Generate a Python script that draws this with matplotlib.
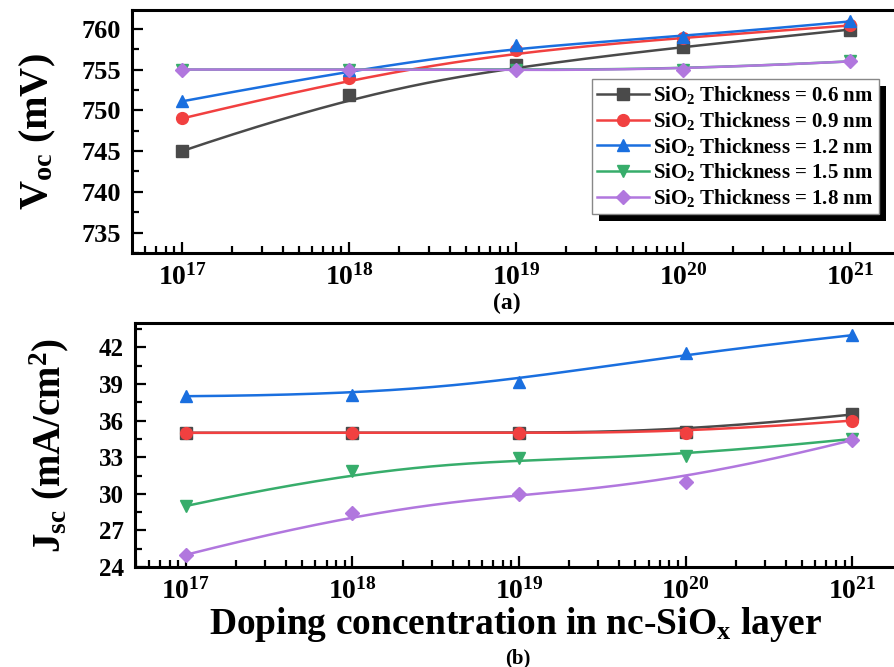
import numpy as np
import matplotlib
matplotlib.use('Agg')
import matplotlib.pyplot as plt
from matplotlib.patches import Rectangle
from matplotlib.ticker import MultipleLocator, LogLocator, LogFormatterMathtext, NullFormatter

plt.rcParams['font.family'] = ['Liberation Serif', 'DejaVu Serif']
plt.rcParams['font.weight'] = 'bold'
plt.rcParams['axes.labelweight'] = 'bold'
plt.rcParams['mathtext.fontset'] = 'custom'
plt.rcParams['mathtext.rm'] = 'Liberation Serif:bold'
plt.rcParams['mathtext.it'] = 'Liberation Serif:bold'
plt.rcParams['mathtext.bf'] = 'Liberation Serif:bold'
plt.rcParams['mathtext.default'] = 'rm'

# data
doping = np.array([1e17, 1e18, 1e19, 1e20, 1e21])
labels = ['SiO$_2$ Thickness = 0.6 nm', 'SiO$_2$ Thickness = 0.9 nm',
          'SiO$_2$ Thickness = 1.2 nm', 'SiO$_2$ Thickness = 1.5 nm',
          'SiO$_2$ Thickness = 1.8 nm']
voc_06 = [745.0, 751.9, 755.5, 757.8, 759.9]
voc_09 = [749.0, 753.9, 757.4, 758.9, 760.4]
voc_12 = [751.1, 754.9, 758.0, 759.0, 760.9]
voc_15 = [755.0, 755.0, 755.0, 755.0, 756.0]
voc_18 = [755.0, 755.0, 754.9, 755.0, 756.0]
jsc_06 = [35.0, 35.0, 35.0, 35.1, 36.5]
jsc_09 = [35.0, 35.0, 35.0, 35.0, 36.0]
jsc_12 = [38.0, 38.1, 39.2, 41.5, 43.0]
jsc_15 = [29.0, 31.9, 32.9, 33.1, 34.5]
jsc_18 = [25.0, 28.45, 30.0, 31.0, 34.4]

colors = ['#4a4a4a', '#F14040', '#1A6FDF', '#37AD6B', '#B177DE']
markers = ['s', 'o', '^', 'v', 'D']
msizes = [8, 8.5, 9, 9, 7.5]


def bspline(xs, ys, n=300):
    # clamped cubic B-spline using the points as control points (Origin style)
    k = 3
    m = len(xs)
    t = np.r_[[0.0] * k, np.arange(m - k + 1), [m - k] * k].astype(float)
    u = np.linspace(0, m - k, n)

    def N(i, p):
        if p == 0:
            out = ((t[i] <= u) & (u < t[i + 1])).astype(float)
            if t[i] < t[i + 1] and t[i + 1] == t[-1]:
                out[u == t[-1]] = 1.0
            return out
        a = np.zeros_like(u)
        b = np.zeros_like(u)
        d1 = t[i + p] - t[i]
        if d1 > 0:
            a = (u - t[i]) / d1 * N(i, p - 1)
        d2 = t[i + p + 1] - t[i + 1]
        if d2 > 0:
            b = (t[i + p + 1] - u) / d2 * N(i + 1, p - 1)
        return a + b

    B = np.array([N(i, k) for i in range(m)])
    return B.T @ np.asarray(xs, float), B.T @ np.asarray(ys, float)


fig = plt.figure(figsize=(8.94, 6.67), dpi=100)
ax1 = fig.add_axes([132 / 894, 1 - 253 / 667, 764 / 894, 243 / 667])
ax2 = fig.add_axes([135 / 894, 1 - 567 / 667, 761 / 894, 244 / 667])


def draw(ax, series):
    lx = np.log10(doping)
    for ys, c, mk, ms, lab in zip(series, colors, markers, msizes, labels):
        sx, sy = bspline(lx, ys)
        ax.plot(10 ** sx, sy, '-', color=c, lw=1.8)
        ax.plot(doping, ys, linestyle='none', marker=mk, ms=ms, color=c)
        ax.plot([], [], '-', color=c, lw=1.8, marker=mk, ms=ms, label=lab)
    ax.set_xscale('log')
    ax.xaxis.set_major_locator(LogLocator(base=10, numticks=10))
    ax.xaxis.set_major_formatter(LogFormatterMathtext())
    ax.xaxis.set_minor_locator(LogLocator(base=10, subs=np.arange(2, 10), numticks=20))
    ax.xaxis.set_minor_formatter(NullFormatter())
    ax.tick_params(which='both', direction='in', width=1.6, top=False, right=False)
    ax.tick_params(which='major', length=8)
    ax.tick_params(which='minor', length=5)
    ax.tick_params(axis='x', labelsize=20, pad=8)
    for s in ax.spines.values():
        s.set_linewidth(2.2)


draw(ax1, [voc_06, voc_09, voc_12, voc_15, voc_18])
ax1.set_xlim(10 ** 16.70, 10 ** 21.275)
ax1.set_ylim(732.5, 762.3)
ax1.yaxis.set_major_locator(MultipleLocator(5))
ax1.yaxis.set_minor_locator(MultipleLocator(2.5))
ax1.tick_params(axis='y', labelsize=19, pad=8)
ax1.set_ylabel('V$_{oc}$ (mV)', fontsize=29, fontweight='bold', va='center')
ax1.yaxis.set_label_coords(-0.123, 0.5)

draw(ax2, [jsc_06, jsc_09, jsc_12, jsc_15, jsc_18])
ax2.set_xlim(10 ** 16.695, 10 ** 21.263)
ax2.set_ylim(24, 44)
ax2.yaxis.set_major_locator(MultipleLocator(3))
ax2.yaxis.set_minor_locator(MultipleLocator(1.5))
ax2.tick_params(axis='y', labelsize=18, pad=8)
ax2.set_ylabel('J$_{sc}$ (mA/cm$^2$)', fontsize=28, fontweight='bold', va='center')
ax2.yaxis.set_label_coords(-0.113, 0.5)
ax2.set_xlabel('Doping concentration in nc-SiO$_x$ layer', fontsize=27,
               fontweight='bold', va='baseline')
ax2.xaxis.set_label_coords(0.5, -0.276)

leg = ax1.legend(loc='upper left', bbox_to_anchor=(0.602, 0.716), fontsize=15,
                 frameon=True, fancybox=False, edgecolor='#888888', framealpha=1,
                 handlelength=2.5, handletextpad=0.2, borderpad=0.25,
                 labelspacing=0.18, borderaxespad=0)
leg.get_frame().set_linewidth(1.0)
leg.set_zorder(6)

fig.text(507 / 894, 1 - 303 / 667, '(a)', fontsize=17, ha='center', va='center')
fig.text(518 / 894, 1 - 658 / 667, '(b)', fontsize=15, ha='center', va='center')

# black drop shadow of the legend box
fig.canvas.draw()
bb = leg.get_frame().get_window_extent()
off = 7
shadow = Rectangle(((bb.x0 + off) / 894, (bb.y0 - off) / 667), bb.width / 894, bb.height / 667,
                   transform=fig.transFigure, facecolor='black', edgecolor='none',
                   zorder=5.5, clip_on=False)
ax1.add_patch(shadow)

fig.savefig('out.png', dpi=100)
